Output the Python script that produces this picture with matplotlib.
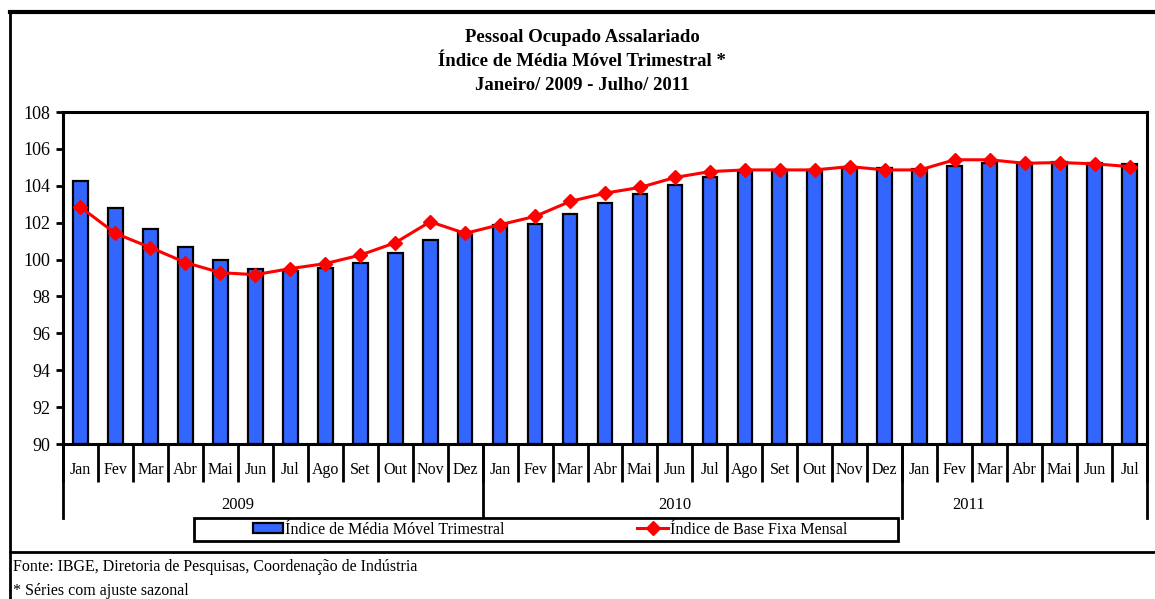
import numpy as np
import matplotlib
matplotlib.use('Agg')
import matplotlib.pyplot as plt
from matplotlib.lines import Line2D
from matplotlib.patches import Patch, Rectangle

plt.rcParams['font.family'] = ['Liberation Serif', 'DejaVu Serif']

# --- data ---
months = ['Jan', 'Fev', 'Mar', 'Abr', 'Mai', 'Jun', 'Jul', 'Ago', 'Set', 'Out', 'Nov', 'Dez',
          'Jan', 'Fev', 'Mar', 'Abr', 'Mai', 'Jun', 'Jul', 'Ago', 'Set', 'Out', 'Nov', 'Dez',
          'Jan', 'Fev', 'Mar', 'Abr', 'Mai', 'Jun', 'Jul']
years = ['2009', '2010', '2011']
year_sizes = [12, 12, 7]

media_movel = [104.27, 102.78, 101.65, 100.69, 99.96, 99.47, 99.38, 99.55, 99.82, 100.33,
               101.04, 101.45, 101.86, 101.95, 102.45, 103.06, 103.57, 104.02, 104.45, 104.74,
               104.83, 104.83, 104.94, 104.95, 104.92, 105.08, 105.22, 105.26, 105.30, 105.22,
               105.17]
base_fixa = [102.84, 101.42, 100.65, 99.84, 99.29, 99.18, 99.51, 99.78, 100.24, 100.91,
             102.05, 101.42, 101.89, 102.34, 103.15, 103.60, 103.91, 104.45, 104.77, 104.86,
             104.86, 104.86, 105.04, 104.86, 104.86, 105.41, 105.41, 105.22, 105.26, 105.19,
             105.04]

BLUE = '#3366ff'
RED = '#ff0000'
W, H = 1155, 599

fig = plt.figure(figsize=(W / 100, H / 100), dpi=100)
ax = fig.add_axes([63 / W, 1 - 444 / H, (1147 - 63) / W, (444 - 112) / H])

x = np.arange(len(months))
ax.bar(x, np.array(media_movel) - 90, bottom=90, width=0.42, color=BLUE,
       edgecolor='black', linewidth=1.6, zorder=2)
ax.plot(x, base_fixa, color=RED, linewidth=2.2, marker='D', markersize=7,
        markeredgecolor=RED, zorder=3)

ax.set_xlim(-0.5, len(months) - 0.5)
ax.set_ylim(90, 108)
ax.set_yticks(np.arange(90, 109, 2))
ax.tick_params(axis='y', direction='out', length=5, width=2, labelsize=13, pad=4)

# month separators as major ticks, names as minor ticks
ax.set_xticks(np.arange(-0.5, len(months), 1.0))
ax.set_xticklabels([])
ax.tick_params(axis='x', which='major', direction='out', length=27, width=2)
ax.set_xticks(x, minor=True)
ax.set_xticklabels(months, minor=True)
ax.tick_params(axis='x', which='minor', length=0, labelsize=11.5, pad=13)

for s in ax.spines.values():
    s.set_linewidth(2.2)

# year level: longer separators and labels
bounds = np.concatenate([[0], np.cumsum(year_sizes)]) - 0.5
trans = ax.get_xaxis_transform()
ybot = -(518 - 444) / (444 - 112)
for b in bounds:
    ax.add_line(Line2D([b, b], [0, ybot], transform=trans, color='black',
                       linewidth=2, clip_on=False))
year_pos = [4.5, 17.0, 25.4]
for yp, yl in zip(year_pos, years):
    ax.text(yp, -(505 - 444) / (444 - 112), yl, transform=trans, ha='center',
            va='center', fontsize=12)

# title
fig.text(582 / W, 1 - 38 / H, 'Pessoal Ocupado Assalariado', ha='center', va='center',
         fontsize=13.5, fontweight='bold')
fig.text(582 / W, 1 - 62 / H, 'Índice de Média Móvel Trimestral *', ha='center', va='center',
         fontsize=13.5, fontweight='bold')
fig.text(582 / W, 1 - 86 / H, 'Janeiro/ 2009 - Julho/ 2011', ha='center', va='center',
         fontsize=13.5, fontweight='bold')

# legend box
fig.add_artist(Rectangle((194 / W, 1 - 541 / H), (898 - 194) / W, 23 / H,
                         transform=fig.transFigure, facecolor='white', edgecolor='black',
                         linewidth=2, zorder=4))
handles = [Patch(facecolor=BLUE, edgecolor='black', linewidth=1.6),
           Line2D([], [], color=RED, linewidth=2.2, marker='D', markersize=7)]
leg = fig.legend(handles, ['Índice de Média Móvel Trimestral', 'Índice de Base Fixa Mensal'],
                 ncol=2, loc='center', bbox_to_anchor=(550 / W, 1 - 529.5 / H),
                 fontsize=11.5, frameon=False, handlelength=1.9, handleheight=0.6,
                 handletextpad=0.15, columnspacing=8.3, borderaxespad=0)
leg.set_zorder(5)

# outer frame
fig.add_artist(Line2D([10 / W, 1], [1 - 12 / H, 1 - 12 / H], transform=fig.transFigure,
                      color='black', linewidth=3))
fig.add_artist(Line2D([10 / W, 10 / W], [1 - 12 / H, 0], transform=fig.transFigure,
                      color='black', linewidth=2))
fig.add_artist(Line2D([10 / W, 1], [1 - 552 / H, 1 - 552 / H], transform=fig.transFigure,
                      color='black', linewidth=2))

# footnotes
fig.text(13 / W, 1 - 567 / H, 'Fonte: IBGE, Diretoria de Pesquisas, Coordenação de Indústria',
         ha='left', va='center', fontsize=11.5)
fig.text(13 / W, 1 - 591 / H, '* Séries com ajuste sazonal', ha='left', va='center',
         fontsize=11.5)

fig.savefig('out.png', dpi=100)
